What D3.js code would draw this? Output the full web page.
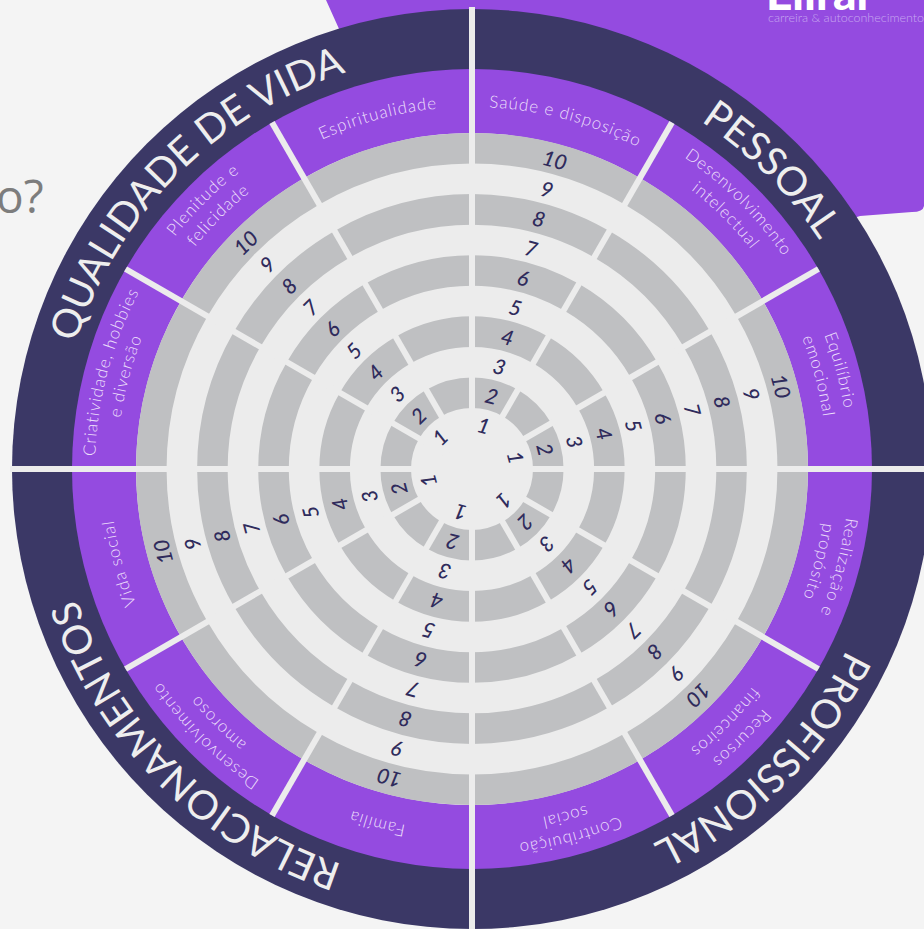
<!DOCTYPE html>
<html>
<head>
<meta charset="utf-8">
<script src="https://cdn.jsdelivr.net/npm/d3@7"></script>
<style>
  html, body { margin: 0; padding: 0; background: #f4f4f4; }
  svg { display: block; }
</style>
</head>
<body>
<svg id="wheel" width="924" height="929"></svg>
<script>
// areas of life, clockwise from 12 o'clock, each one a 30 degree sector
var areaNames = [
    ['Saúde e disposição'],
    ['Desenvolvimento', 'intelectual'],
    ['Equilíbrio', 'emocional'],
    ['Realização e', 'propósito'],
    ['Recursos', 'financeiros'],
    ['Contribuição', 'social'],
    ['Família'],
    ['Desenvolvimento', 'amoroso'],
    ['Vida social'],
    ['Criatividade, hobbies', 'e diversão'],
    ['Plenitude e', 'felicidade'],
    ['Espiritualidade']
];
// the four big groups, three areas each
var groups = ['PESSOAL', 'PROFISSIONAL', 'RELACIONAMENTOS', 'QUALIDADE DE VIDA'];
// score levels printed from the centre outwards
var levels = [1, 2, 3, 4, 5, 6, 7, 8, 9, 10];
// areas whose sector carries the printed scale
var numberedAreas = [0, 2, 4, 6, 8, 10];

var cx = 472, cy = 469;
var rOuter = 460, rGroup = 400, rArea = 336;

var svg = d3.select('#wheel');
var angle = d3.scaleLinear().domain([0, areaNames.length]).range([0, 2 * Math.PI]);
var radius = d3.scaleLinear().domain([1, 10]).range([61, rArea]);
var deg = function (a) { return a * 180 / Math.PI; };

var colors = {
    dark: '#3b3866',
    purple: '#944be0',
    gray: '#bfc0c2',
    light: '#ececec',
    number: '#2f2b5c',
    areaText: '#ecdffb',
    groupText: '#eeeeee'
};

// background
svg.append('rect').attr('width', 924).attr('height', 929).attr('fill', '#f4f4f4');
svg.append('path')
    .attr('d', 'M326,0 L924,0 L924,206 Q923,212 912,212 L860,216 L600,300 L380,120 Z')
    .attr('fill', colors.purple);
svg.append('text')
    .attr('x', 766).attr('y', 10)
    .attr('font-family', 'Lato').attr('font-weight', 900).attr('font-size', 46)
    .attr('fill', '#ffffff')
    .text('Elirar');
svg.append('text')
    .attr('x', 768).attr('y', 22)
    .attr('font-family', 'Lato').attr('font-weight', 300).attr('font-size', 12.5)
    .attr('fill', '#c7a7f0')
    .text('carreira & autoconhecimento');
svg.append('text')
    .attr('x', -4).attr('y', 213)
    .attr('font-family', 'Open Sans').attr('font-size', 46)
    .attr('fill', '#7d7d7d')
    .text('o?');

var g = svg.append('g').attr('transform', 'translate(' + cx + ',' + cy + ')');
var defs = svg.append('defs');

g.append('circle').attr('r', rOuter).attr('fill', colors.dark);
g.append('circle').attr('r', rGroup).attr('fill', colors.purple);
g.append('circle').attr('r', rArea).attr('fill', colors.light);

// gray segmented bands on even levels
var arc = d3.arc();
var cells = [];
levels.filter(function (l) { return l % 2 === 0; }).forEach(function (l) {
    areaNames.forEach(function (a, i) { cells.push({ level: l, area: i }); });
});
g.selectAll('path.cell').data(cells).enter()
    .append('path').attr('class', 'cell')
    .attr('d', function (d) {
        return arc({
            innerRadius: radius(d.level - 1), outerRadius: radius(d.level),
            startAngle: angle(d.area), endAngle: angle(d.area + 1)
        });
    })
    .attr('fill', colors.gray);

// spokes, the group borders cross the dark ring too
g.selectAll('line.spoke').data(areaNames.map(function (a, i) { return i; })).enter()
    .append('line').attr('class', 'spoke')
    .attr('x1', 0).attr('y1', 0)
    .attr('x2', function (i) { return Math.sin(angle(i)) * (i % 3 === 0 ? rOuter + 2 : rGroup); })
    .attr('y2', function (i) { return -Math.cos(angle(i)) * (i % 3 === 0 ? rOuter + 2 : rGroup); })
    .attr('stroke', colors.light).attr('stroke-width', 6);

function arcPath(r, a0, a1) {
    var p = d3.path();
    p.moveTo(r * Math.sin(a0), -r * Math.cos(a0));
    p.arc(0, 0, r, a0 - Math.PI / 2, a1 - Math.PI / 2, false);
    return p.toString();
}

// area names in the purple ring
var areaLines = [];
areaNames.forEach(function (lines, i) {
    lines.forEach(function (t, j) {
        var base = lines.length === 1 ? 362 : (j === 0 ? 377 : 355);
        areaLines.push({ id: 'area-' + i + '-' + j, text: t, r: base, mid: angle(i + 0.5) });
    });
});
defs.selectAll('path.area').data(areaLines).enter()
    .append('path').attr('class', 'area')
    .attr('id', function (d) { return d.id; })
    .attr('d', function (d) { return arcPath(d.r, d.mid - 0.7, d.mid + 0.7); });
g.selectAll('text.area').data(areaLines).enter()
    .append('text').attr('class', 'area')
    .attr('font-family', 'Lato').attr('font-weight', 300).attr('font-size', 17)
    .attr('letter-spacing', 0.9)
    .attr('fill', colors.areaText)
    .append('textPath')
    .attr('href', function (d) { return '#' + d.id; })
    .attr('startOffset', '50%').attr('text-anchor', 'middle')
    .text(function (d) { return d.text; });

// group names in the dark ring
var groupData = groups.map(function (t, k) { return { id: 'group-' + k, text: t, mid: angle(k * 3 + 1.5) }; });
defs.selectAll('path.group').data(groupData).enter()
    .append('path').attr('class', 'group')
    .attr('id', function (d) { return d.id; })
    .attr('d', function (d) { return arcPath(416, d.mid - 1.2, d.mid + 1.2); });
g.selectAll('text.group').data(groupData).enter()
    .append('text').attr('class', 'group')
    .attr('font-family', 'Lato').attr('font-weight', 400).attr('font-size', 40)
    .attr('fill', colors.groupText)
    .append('textPath')
    .attr('href', function (d) { return '#' + d.id; })
    .attr('startOffset', '50%').attr('text-anchor', 'middle')
    .text(function (d) { return d.text; });

// scale numbers along every other sector
var numbers = [];
numberedAreas.forEach(function (i) {
    levels.forEach(function (l) { numbers.push({ area: i, level: l }); });
});
g.selectAll('text.num').data(numbers).enter()
    .append('text').attr('class', 'num')
    .attr('transform', function (d) {
        var r = (radius(d.level - 1) + radius(d.level)) / 2;
        return 'rotate(' + deg(angle(d.area + 0.5)) + ') translate(0,' + (-r) + ')';
    })
    .attr('text-anchor', 'middle').attr('dominant-baseline', 'central')
    .attr('font-family', 'Lato').attr('font-style', 'italic').attr('font-weight', 500)
    .attr('font-size', 21)
    .attr('fill', colors.number)
    .text(function (d) { return d.level; });
</script>
</body>
</html>
